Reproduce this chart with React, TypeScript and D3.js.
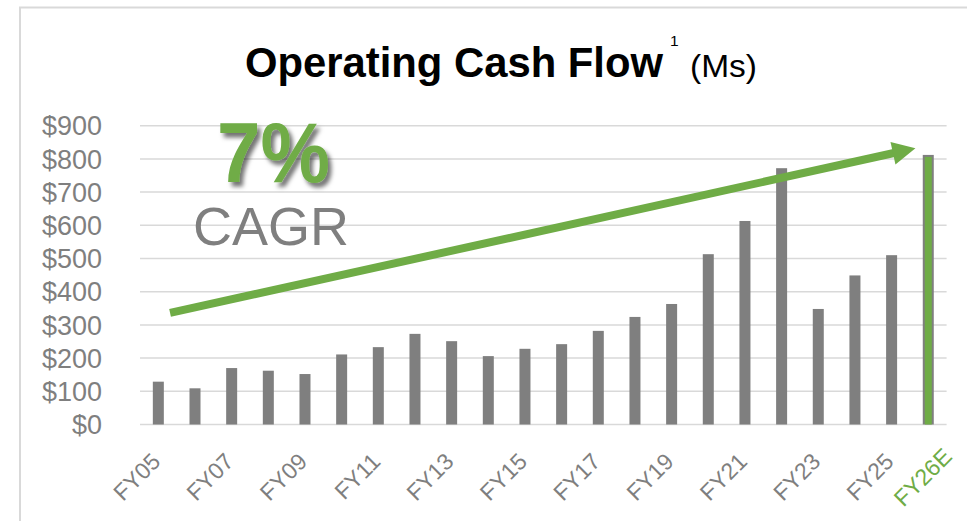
import React from 'react';
import * as d3 from 'd3';

const categories = ['FY05','FY06','FY07','FY08','FY09','FY10','FY11','FY12','FY13','FY14','FY15','FY16','FY17','FY18','FY19','FY20','FY21','FY22','FY23','FY24','FY25','FY26E'];
const values = [129,109,170,162,152,211,233,273,251,206,228,242,282,324,363,513,613,772,348,449,510,812];
const yTicks = [0,100,200,300,400,500,600,700,800,900];
const labeledCategories = ['FY05','FY07','FY09','FY11','FY13','FY15','FY17','FY19','FY21','FY23','FY25'];
const highlightCategory = 'FY26E';
const arrowFrom = { pos: 0.32, value: 336 };
const arrowTo = { pos: 20.65, value: 832 };

const W = 967;
const H = 521;
const FONT = '"Liberation Sans", Arial, sans-serif';
const GRAY = '#7f7f7f';
const GREEN = '#6fac46';
const GRID = '#d9d9d9';

export default function App() {
  const x = d3.scaleBand<string>().domain(categories).range([140, 946.6]).padding(0);
  const step = x.bandwidth();
  const barW = step * 0.3;
  const center = (c: string) => (x(c) as number) + step / 2;
  const pos = d3.scaleLinear().domain([0, categories.length - 1]).range([center(categories[0]), center(categories[categories.length - 1])]);
  const y = d3.scaleLinear().domain([0, 900]).range([424.5, 125.7]);

  const x0 = pos(arrowFrom.pos), y0 = y(arrowFrom.value);
  const x1 = pos(arrowTo.pos), y1 = y(arrowTo.value);
  const len = Math.hypot(x1 - x0, y1 - y0);
  const ux = (x1 - x0) / len, uy = (y1 - y0) / len;
  const headLen = 23, headHalf = 11.5;
  const bx = x1 - ux * headLen, by = y1 - uy * headLen;
  const nx = -uy, ny = ux;
  const head = `M${x1},${y1} L${bx + nx * headHalf},${by + ny * headHalf} L${bx - nx * headHalf},${by - ny * headHalf} Z`;

  return (
    <svg width={W} height={H} style={{ position: 'absolute', left: 0, top: 0 }} fontFamily={FONT}>
      <defs>
        <filter id="shadow" x="-20%" y="-20%" width="150%" height="150%">
          <feDropShadow dx="3.5" dy="4.5" stdDeviation="2.2" floodColor="#000" floodOpacity="0.55" />
        </filter>
      </defs>
      <rect width={W} height={H} fill="#fff" />
      <path d={`M20,${H} V7.5 H${W}`} fill="none" stroke={GRID} strokeWidth={2} />

      <text x={245} y={77} fontSize={42.5} fontWeight="bold" fill="#000" textLength={418} lengthAdjust="spacingAndGlyphs">Operating Cash Flow</text>
      <text x={670} y={45.5} fontSize={15.5} fill="#000">1</text>
      <text x={690} y={77} fontSize={31} fill="#000" textLength={67} lengthAdjust="spacingAndGlyphs">(Ms)</text>

      {yTicks.map(t => (
        <line key={'g' + t} x1={140} x2={946.6} y1={y(t)} y2={y(t)} stroke={GRID} strokeWidth={1.5} />
      ))}
      {yTicks.map(t => (
        <text key={'yl' + t} x={102} y={y(t) + 9.7} fontSize={27} fill={GRAY} textAnchor="end">{'$' + t}</text>
      ))}

      {categories.map((c, i) => {
        const cx = center(c);
        const top = y(values[i]);
        const h = y(0) - top;
        if (c === highlightCategory) {
          return (
            <g key={c}>
              <rect x={cx - barW / 2} y={top} width={barW} height={h} fill={GRAY} />
              <rect x={cx - barW / 2 + 2} y={top + 2} width={barW - 4} height={h - 2} fill={GREEN} />
            </g>
          );
        }
        return <rect key={c} x={cx - barW / 2} y={top} width={barW} height={h} fill={GRAY} />;
      })}

      {labeledCategories.map(c => (
        <text key={'xl' + c} transform={`translate(${center(c) + 3.5},463) rotate(-45)`} fontSize={23} fill={GRAY} textAnchor="end">{c}</text>
      ))}
      <text transform={`translate(${center(highlightCategory) + 25},458) rotate(-45)`} fontSize={23} fill={GREEN} textAnchor="end">{highlightCategory}</text>

      <line x1={x0} y1={y0} x2={bx + ux * 1} y2={by + uy * 1} stroke={GREEN} strokeWidth={8} />
      <path d={head} fill={GREEN} />

      <text x={217} y={182} fontSize={86} fontWeight="bold" fill={GREEN} textLength={113} lengthAdjust="spacingAndGlyphs" filter="url(#shadow)">7%</text>
      <text x={193} y={245} fontSize={54} fill={GRAY} textLength={156} lengthAdjust="spacingAndGlyphs">CAGR</text>
    </svg>
  );
}
